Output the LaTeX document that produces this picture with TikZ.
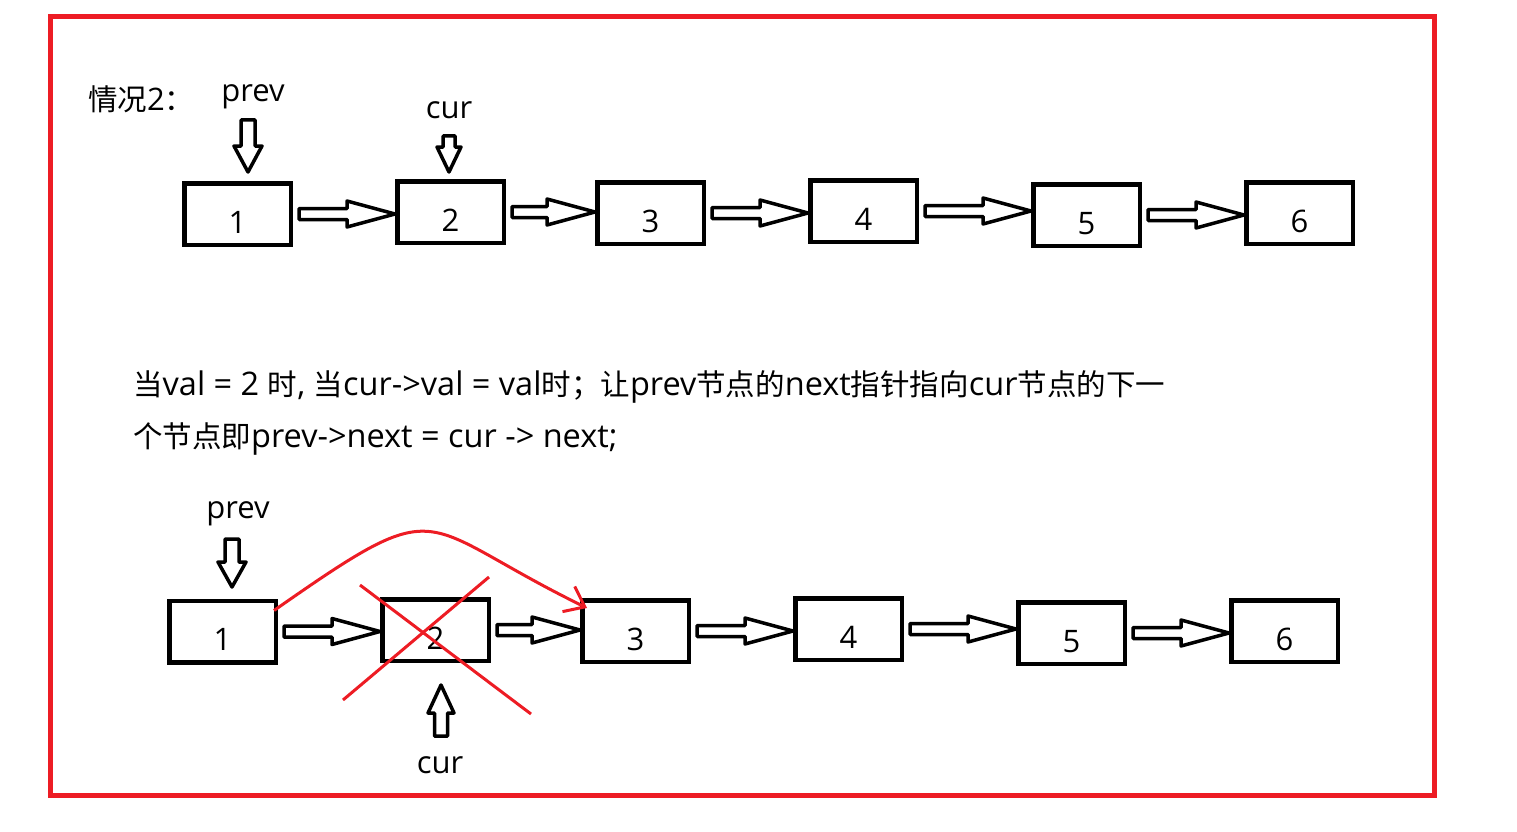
\documentclass[tikz,border=0pt]{standalone}
\usepackage{fontspec}
\setmainfont{Open Sans}
\newfontfamily\cjk{Noto Sans CJK SC}
\newcommand\zh[1]{{\cjk\fontsize{29.5}{29.5}\selectfont #1}}
\usepackage{tikz}
\usetikzlibrary{calc}
\usetikzlibrary{arrows.meta}
\definecolor{markred}{RGB}{237,28,36}

\begin{document}
\begin{tikzpicture}[
        x=1pt, y=1pt,
        box/.style = {
        draw, line width=4.5pt, minimum width=106.5pt, minimum height=61.5pt,
        inner sep=0pt, text height=38pt, text depth=0pt, font=\fontsize{31}{31}\selectfont
        },
        lbl/.style = {anchor=base, inner sep=0pt, font=\fontsize{31}{31}\selectfont},
        para/.style = {anchor=base west, inner sep=0pt, font=\fontsize{32.5}{32.5}\selectfont},
        fat/.style n args = {3}{
        line width=3.5pt, line join=round,
        to path={
            ($(\tikztotarget)!#3pt!(\tikztostart)$) coordinate (tmph)
            ($(\tikztostart)!#1pt!90:(\tikztotarget)$) -- ($(tmph)!#1pt!90:(\tikztotarget)$)
            -- ($(tmph)!#2pt!90:(\tikztotarget)$) -- (\tikztotarget)
            -- ($(tmph)!#2pt!-90:(\tikztotarget)$) -- ($(tmph)!#1pt!-90:(\tikztotarget)$)
            -- ($(\tikztostart)!#1pt!-90:(\tikztotarget)$) -- cycle}
        },
        redline/.style = {markred, line width=3pt}
        ]
        \useasboundingbox (0,0) rectangle (1517,-832);
        \draw[markred, line width=5pt] (50.5,-17) rectangle (1434.5,-795.5);

        % top list
        \node[para, font=\fontsize{31}{31}\selectfont] (case) at (88,-111) {\zh{情况}2\zh{：}};
        \foreach \i/\x/\y in {1/237.5/214, 2/450.5/212, 3/650.5/213, 4/863.5/211, 5/1086.5/215, 6/1299.5/213}
            \node[box] (t\i) at (\x,-\y) {\i};
        \foreach \i [evaluate=\i as \j using int(\i+1)] in {1,...,5}
            \draw[fat={5.5}{13}{48}] ($(t\i.east)+(6,0)$) to (t\i.east -| t\j.west);

        \node[lbl] (prev1) at (253,-102) {prev};
        \node[lbl] (cur1) at (449,-118) {cur};
        \coordinate (ptail1) at (248,-120);
        \coordinate (ptip1) at (248,-172);
        \coordinate (ctail1) at (449,-136);
        \coordinate (ctip1) at (449,-172);
        \draw[fat={7}{14}{26}] (ptail1) to (ptip1);
        \draw[fat={6}{12}{25}] (ctail1) to (ctip1);

        % explanation
        \node[para] (line1) at (133,-395) {\zh{当}val = 2 \zh{时}, \zh{当}cur->val = val\zh{时；让}prev\zh{节点的}next\zh{指针指向}cur\zh{节点的下一}};
        \node[para] (line2) at (133,-447) {\zh{个节点即}prev->next = cur -> next;};

        % bottom list
        \foreach \i/\x/\y in {1/222.5/631.5, 2/435.5/630, 3/635.5/631, 4/848.5/629, 5/1071.5/633, 6/1284.5/631}
            \node[box] (b\i) at (\x,-\y) {\i};
        \foreach \i [evaluate=\i as \j using int(\i+1)] in {1,...,5}
            \draw[fat={5.5}{13}{48}] ($(b\i.east)+(6,0)$) to (b\i.east -| b\j.west);

        \node[lbl] (prev2) at (238,-518) {prev};
        \node[lbl] (cur2) at (440,-773) {cur};
        \coordinate (ptail2) at (232,-539);
        \coordinate (ptip2) at (232,-587);
        \coordinate (ctail2) at (441,-736);
        \coordinate (ctip2) at (441,-685);
        \draw[fat={7}{14}{25}] (ptail2) to (ptip2);
        \draw[fat={6.5}{13}{28}] (ctail2) to (ctip2);

        % remove node 2
        \draw[redline] (360,-585) -- (531,-714);
        \draw[redline] (343,-700) -- (489,-577);
        \draw[redline, -{Straight Barb[length=18pt, width=28pt]}]
            ($(b1.north east)+(-4,-12)$) .. controls (448,-489) and (413,-523) .. ($(b3.north west)+(7,-10)$);
    \end{tikzpicture}
\end{document}
